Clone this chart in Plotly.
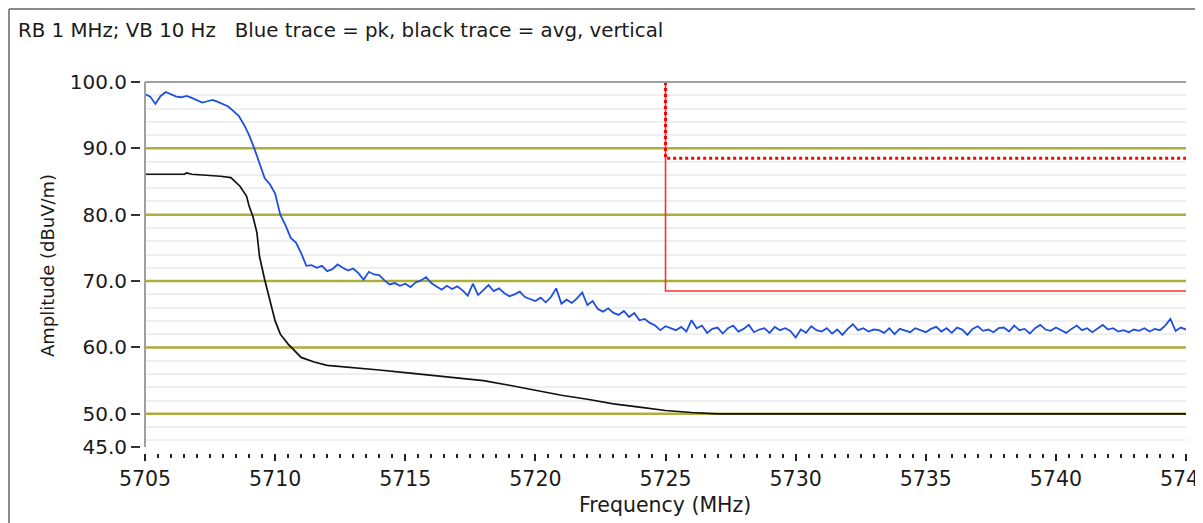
import plotly.graph_objects as go

# peak trace, one value every 0.2 MHz from 5705 MHz
pk_start = 5705.0
pk_step = 0.2
peak = [
    98.2, 97.8, 96.7, 97.9, 98.5,  # 5705
    98.1, 97.8, 97.7, 97.9, 97.6,  # 5706
    97.2, 96.9, 97.1, 97.3, 97.0,  # 5707
    96.6, 96.3, 95.6, 94.9, 93.6,  # 5708
    92.0, 90.0, 87.8, 85.5, 84.6,  # 5709
    83.2, 80.0, 78.4, 76.5, 75.8,  # 5710
    74.2, 72.3, 72.4, 72.0, 72.3,  # 5711
    71.5, 71.8, 72.5, 72.0, 71.6,  # 5712
    71.9, 71.2, 70.2, 71.4, 71.0,  # 5713
    70.9, 70.1, 69.5, 69.7, 69.3,  # 5714
    69.6, 69.1, 69.8, 70.1, 70.6,  # 5715
    69.7, 69.2, 68.7, 69.3, 68.8,  # 5716
    69.2, 68.6, 67.8, 69.6, 67.9,  # 5717
    68.6, 69.4, 68.5, 68.9, 68.2,  # 5718
    67.7, 68.0, 68.4, 67.6, 67.3,  # 5719
    67.0, 67.5, 66.8, 67.6, 68.9,  # 5720
    66.6, 67.2, 66.7, 67.4, 68.3,  # 5721
    66.4, 67.0, 65.8, 65.4, 65.9,  # 5722
    65.2, 64.9, 65.5, 64.6, 65.2,  # 5723
    64.1, 64.3, 63.7, 63.3, 62.6,  # 5724
    63.2, 62.9, 62.6, 63.1, 62.4,  # 5725
    64.1, 62.9, 63.3, 62.2, 62.8,  # 5726
    63.0, 62.1, 62.9, 63.3, 62.4,  # 5727
    62.8, 63.4, 62.3, 62.7, 62.9,  # 5728
    62.2, 63.1, 62.6, 62.9, 62.5,  # 5729
    61.5, 62.7, 62.2, 63.2, 62.6,  # 5730
    62.4, 62.9, 62.1, 62.7, 61.9,  # 5731
    62.8, 63.5, 62.6, 62.9, 62.4,  # 5732
    62.7, 62.6, 62.2, 62.9, 62.0,  # 5733
    62.8, 62.5, 62.3, 62.9, 62.6,  # 5734
    62.3, 62.8, 63.1, 62.4, 62.9,  # 5735
    62.2, 63.0, 62.7, 61.9, 62.8,  # 5736
    63.2, 62.5, 62.7, 62.3, 62.9,  # 5737
    63.0, 62.4, 63.3, 62.6, 62.8,  # 5738
    62.1, 62.9, 63.4, 62.7, 62.5,  # 5739
    63.0, 62.6, 62.2, 62.8, 63.3,  # 5740
    62.6, 62.9, 62.3, 62.8, 63.4,  # 5741
    62.7, 62.9, 62.4, 62.6, 62.3,  # 5742
    62.7, 62.5, 62.9, 62.4, 62.8,  # 5743
    62.6, 63.3, 64.3, 62.5, 63.0,  # 5744
    62.7,                          # 5745
]
pk_freq = [pk_start + pk_step * i for i in range(len(peak))]

avg_freq = [5705, 5706.5, 5706.6, 5706.8, 5707.9, 5708.3, 5708.65, 5708.9, 5709.0, 5709.15,
            5709.3, 5709.4, 5709.6, 5709.8, 5710.0, 5710.2, 5710.5, 5711.0, 5711.5, 5712,
            5713, 5714, 5715, 5716, 5717, 5718, 5719, 5720, 5721, 5722,
            5723, 5724, 5725, 5726, 5727, 5745]
avg = [86.1, 86.1, 86.3, 86.1, 85.8, 85.6, 84.3, 82.8, 81.3, 79.7,
       77.3, 73.7, 70.2, 67.0, 64.0, 62.0, 60.5, 58.5, 57.8, 57.3,
       57.0, 56.6, 56.2, 55.8, 55.3, 55.0, 54.3, 53.5, 52.8, 52.2,
       51.5, 51.0, 50.5, 50.2, 50.0, 50.0]

limit_freq = [5725, 5725, 5745]
limit_pk = [100, 88.5, 88.5]
limit_avg = [100, 68.5, 68.5]

x_range = [5705, 5745]
x_ticks = [5705, 5710, 5715, 5720, 5725, 5730, 5735, 5740, 5745]
y_ticks = [45, 50, 60, 70, 80, 90, 100]
y_grid = [50, 60, 70, 80, 90]

# page has an 8px body margin, so work in page pixels and shift
OFF = 8
W, H = 1203, 523
L, R, T, B = 145 - OFF - 10, 1203 - (1186 - OFF), 82 - OFF, 523 - (453 - OFF)
PW, PH = W - L - R, H - T - B

def px(x):
    return (x - OFF - L) / PW

def py(y):
    return (H - B - (y - OFF)) / PH

fig = go.Figure()
# olive major grid, drawn as lines under the traces
for g in y_grid:
    fig.add_trace(go.Scatter(x=x_range, y=[g, g], mode="lines", hoverinfo="skip",
                             line=dict(color="#aeae3a", width=2.5)))
fig.add_trace(go.Scatter(x=avg_freq, y=avg, mode="lines",
                         line=dict(color="#111111", width=1.7)))
fig.add_trace(go.Scatter(x=pk_freq, y=peak, mode="lines",
                         line=dict(color="#1e4fe0", width=1.8)))
fig.add_trace(go.Scatter(x=limit_freq, y=limit_avg, mode="lines",
                         line=dict(color="#ff3030", width=1.6)))
fig.add_trace(go.Scatter(x=limit_freq, y=limit_pk, mode="lines",
                         line=dict(color="#ff0000", width=3, dash="dot")))

shapes = []
# plot frame (top + left)
shapes.append(dict(type="line", xref="x domain", yref="y domain", x0=0, x1=1, y0=1, y1=1,
                   line=dict(color="#a0a0a0", width=2)))
shapes.append(dict(type="line", xref="x domain", yref="y domain", x0=0, x1=0, y0=0, y1=1,
                   line=dict(color="#a0a0a0", width=2)))
# outer panel border (as close to the page corner as the figure reaches)
shapes.append(dict(type="line", xref="paper", yref="paper", x0=px(9), x1=px(1215), y0=py(9), y1=py(9),
                   line=dict(color="#8a8a8a", width=2)))
shapes.append(dict(type="line", xref="paper", yref="paper", x0=px(9), x1=px(9), y0=py(9), y1=py(540),
                   line=dict(color="#8a8a8a", width=2)))

fig.update_layout(
    width=W, height=H,
    margin=dict(l=L, r=R, t=T, b=B, autoexpand=False),
    paper_bgcolor="white", plot_bgcolor="white",
    showlegend=False,
    font=dict(family="DejaVu Sans", size=20, color="#1a1a1a"),
    shapes=shapes,
    annotations=[
        dict(text="RB 1 MHz; VB 10 Hz   Blue trace = pk, black trace = avg, vertical",
             xref="paper", yref="paper", x=px(16), y=py(30), xanchor="left", yanchor="middle",
             showarrow=False, font=dict(size=19.8)),
        dict(text="Amplitude (dBuV/m)", xref="paper", yref="paper", x=px(47), y=py(266),
             textangle=-90, showarrow=False, xanchor="center", yanchor="middle", font=dict(size=18)),
        dict(text="Frequency (MHz)", xref="paper", yref="paper", x=px(665), y=py(505),
             showarrow=False, xanchor="center", yanchor="middle", font=dict(size=20.5)),
    ],
)

fig.update_xaxes(
    range=x_range, domain=[10 / PW, 1], anchor="free", position=0,
    tickvals=x_ticks, automargin=False,
    ticks="outside", ticklen=7, tickwidth=1.5, tickcolor="#222222",
    minor=dict(dtick=0.5, tick0=5705, ticks="outside", ticklen=4, tickwidth=1.5, tickcolor="#222222"),
    showgrid=False, zeroline=False, showline=False, ticklabeloverflow="allow",
    tickfont=dict(size=20.5),
)
fig.update_yaxes(
    range=[45, 100], domain=[6 / PH, 1], anchor="free", position=5 / PW,
    tickvals=y_ticks, ticktext=[f"{v:.1f}" for v in y_ticks], automargin=False,
    ticks="outside", ticklen=9, tickwidth=2, tickcolor="#333333",
    showgrid=False, zeroline=False, showline=False,
    minor=dict(dtick=2, tick0=0, showgrid=True, gridcolor="#efefef", gridwidth=1.5),
    tickfont=dict(size=20),
)

fig.write_html("out.html")
